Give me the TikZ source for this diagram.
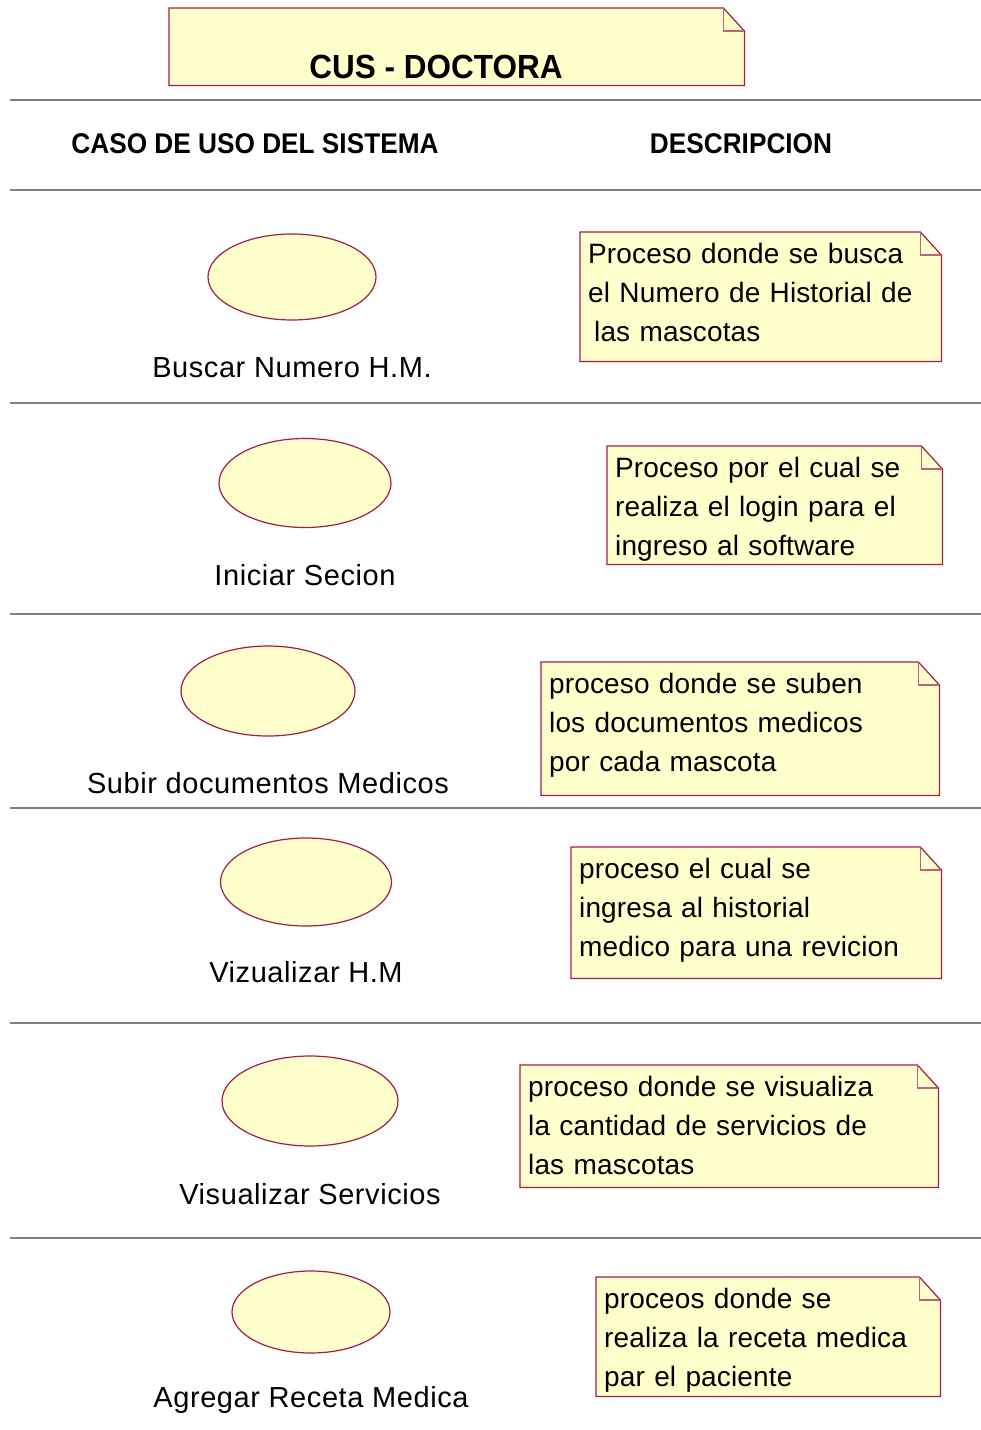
\documentclass[tikz,border=0pt]{standalone}
\usepackage{fontspec}
\setmainfont{Liberation Sans}
\newfontfamily\headfont[FakeStretch=0.92]{Liberation Sans}
\newfontfamily\titlefont[FakeStretch=0.94]{Liberation Sans}
\newfontfamily\labelfont[LetterSpace=2]{Liberation Sans}
\newfontfamily\descfont[LetterSpace=0.5]{Liberation Sans}
\usetikzlibrary{shapes.geometric,backgrounds}

\definecolor{notefill}{RGB}{255,255,204}
\definecolor{umlline}{RGB}{163,28,72}
\definecolor{rulegray}{RGB}{128,128,128}

\tikzset{
    usecase/.style={ellipse, draw=umlline, fill=notefill, line width=1.2pt, inner sep=0pt},
    uclabel/.style={anchor=base, inner sep=0pt, font=\labelfont\fontsize{29}{34}\selectfont},
    notebox/.style={anchor=north west, inner sep=0pt},
    notetext/.style={anchor=north west, inner sep=0pt, align=left,
        font=\descfont\fontsize{28}{39}\selectfont},
    header/.style={anchor=base, inner sep=0pt, font=\headfont\bfseries\fontsize{28.5}{32}\selectfont},
}

\begin{document}
\begin{tikzpicture}[x=1pt, y=-1pt]
    \useasboundingbox (0,0) rectangle (981,1430);

    % Title note
    \node[notebox, minimum width=575pt, minimum height=77pt] (t) at (169,8) {};
    \node[anchor=base, inner sep=0pt, font=\titlefont\bfseries\fontsize{33.5}{40}\selectfont] (ttl) at (436,78) {CUS - DOCTORA};

    % Column headers
    \node[header] (hcaso) at (255,153) {CASO DE USO DEL SISTEMA};
    \node[header] (hdesc) at (741,153) {DESCRIPCION};

    % Row separators
    \foreach \y in {100,190,403,614,808,1023,1238} {
        \draw[rulegray, line width=1.2pt] (10,\y) -- (981,\y);
    }

    % Use cases with their names
    \foreach \i/\x/\y/\w/\h/\ly/\txt in {
        1/292/277/168/86/377/{Buscar Numero H.M.},
        2/305/483/172/89/585/{Iniciar Secion},
        3/268/691/174/90/793/{Subir documentos Medicos},
        4/306/882/171/88/982/{Vizualizar H.M},
        5/310/1101/176/90/1204/{Visualizar Servicios},
        6/311/1312/158/82/1407/{Agregar Receta Medica}
    } {
        \node[usecase, minimum width=\w pt, minimum height=\h pt] (u\i) at (\x,\y) {};
        \node[uclabel] (l\i) at (\x,\ly) {\txt};
    }

    % Descriptions
    \foreach \i/\x/\y/\w/\h/\txt in {
        1/580/232/361/129/{Proceso donde se busca\\el Numero de Historial de\\\hspace*{6pt}las mascotas},
        2/607/446/335/118/{Proceso por el cual se\\realiza el login para el\\ingreso al software},
        3/541/662/398/133/{proceso donde se suben\\los documentos medicos\\por cada mascota},
        4/571/847/370/131/{proceso el cual se\\ingresa al historial\\medico para una revicion},
        5/520/1065/418/122/{proceso donde se visualiza\\la cantidad de servicios de\\las mascotas},
        6/596/1277/344/119/{proceos donde se\\realiza la receta medica\\par el paciente}
    } {
        \pgfmathsetmacro\tw{\w-16}
        \node[notebox, minimum width=\w pt, minimum height=\h pt] (n\i) at (\x,\y) {};
        \node[notetext, text width=\tw pt] (d\i) at ([xshift=8pt, yshift=-11pt]n\i.north west) {\txt};
    }

    % Note outlines with folded corner
    \begin{pgfonlayer}{background}
        \foreach \n in {t,n1,n2,n3,n4,n5,n6} {
            \filldraw[draw=umlline, fill=notefill, line width=1.2pt]
                (\n.north west) -- ([xshift=-21pt]\n.north east) -- ([yshift=-23pt]\n.north east)
                -- (\n.south east) -- (\n.south west) -- cycle;
            \draw[umlline!70, line width=1.2pt] ([xshift=-21pt]\n.north east) |- ([yshift=-23pt]\n.north east);
        }
    \end{pgfonlayer}
\end{tikzpicture}
\end{document}
